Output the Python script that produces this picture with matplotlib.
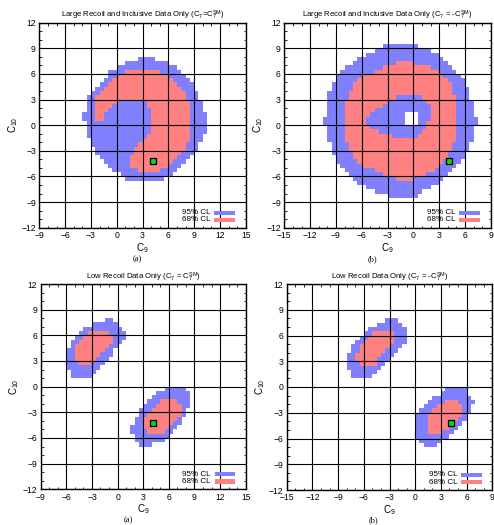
import matplotlib
matplotlib.use("Agg")
import matplotlib.pyplot as plt
from matplotlib.ticker import MultipleLocator

plt.rcParams['font.family'] = ['Liberation Sans', 'DejaVu Sans']
plt.rcParams['mathtext.fontset'] = 'custom'
plt.rcParams['mathtext.rm'] = 'Liberation Sans'
plt.rcParams['mathtext.it'] = 'Liberation Sans'

BLUE = '#8080ff'
RED = '#ff8080'
CELL = 0.5

# Standard-model point (C9, C10)
sm_c9 = 4.2
sm_c10 = -4.2

# ---------------- Panel 1: large recoil + inclusive, C7 = C7^SM ----------------
p1_rows = [7.5, 7, 6.5, 6, 5.5, 5, 4.5, 4, 3.5, 3, 2.5, 2, 1.5, 1, 0.5, 0,
           -0.5, -1, -1.5, -2, -2.5, -3, -3.5, -4, -4.5, -5, -5.5, -6, -6.5]
p1_cl95 = [[(2.5, 4.5)], [(1, 6)], [(0, 7)], [(-1, 7.5)], [(-1, 8)], [(-1.5, 8.5)],
           [(-2, 9)], [(-2.5, 9)], [(-3, 9.5)], [(-3.5, 9.5)], [(-3.5, 10)],
           [(-3.5, 10)], [(-3.5, 10)], [(-4, 10.5)], [(-4, 10.5)], [(-3.5, 10.5)],
           [(-3.5, 10.5)], [(-3.5, 10.5)], [(-3.5, 10)], [(-3, 10)], [(-3, 9.5)],
           [(-2.5, 9.5)], [(-2.5, 9)], [(-2, 8.5)], [(-1.5, 8)], [(-1, 7.5)],
           [(-0.5, 7)], [(0.5, 6.5)], [(1, 5.5)]]
p1_cl68 = [[], [], [], [(1, 5)], [(0, 6)], [(-0.5, 6.5)], [(-1, 7)], [(-1.5, 7.5)],
           [(-2, 8)], [(-2.5, 8)], [(-2.5, 0), (3.5, 8.5)], [(-2.5, -0.5), (3.5, 8.5)],
           [(-2.5, -1), (4, 8.5)], [(-2.5, -1.5), (4, 8.5)], [(-2.5, -1.5), (4, 8.5)],
           [(4, 8.5)], [(4, 8.5)], [(4, 8.5)], [(3.5, 8.5)], [(3, 8.5)],
           [(2.5, 8)], [(2, 8)], [(2, 7.5)], [(1.5, 7)], [(1.5, 6.5)],
           [(1.5, 6)], [(2.5, 5)], [], []]

# ---------------- Panel 2: large recoil + inclusive, C7 = -C7^SM ----------------
p2_rows = [9, 8.5, 8, 7.5, 7, 6.5, 6, 5.5, 5, 4.5, 4, 3.5, 3, 2.5, 2, 1.5, 1, 0.5, 0,
           -0.5, -1, -1.5, -2, -2.5, -3, -3.5, -4, -4.5, -5, -5.5, -6, -6.5, -7,
           -7.5, -8, -8.5]
p2_cl95 = [[(-3.5, 0.5)], [(-4.5, 2)], [(-5.5, 3)], [(-6.5, 3.5)], [(-7, 4)],
           [(-8, 4.5)], [(-8.5, 5)], [(-9, 5.5)], [(-9, 6)], [(-9.5, 6)],
           [(-9.5, 6.5)], [(-10, 6.5)], [(-10, 6.5)], [(-10, 7)], [(-10, 7)],
           [(-10, 7)], [(-10, -1), (0.5, 7)], [(-10.5, -1), (0.5, 7.5)],
           [(-10.5, -1), (0.5, 7.5)], [(-10, 7)], [(-10, 7)], [(-10, 7)], [(-10, 7)],
           [(-9.5, 6.5)], [(-9.5, 6.5)], [(-9.5, 6)], [(-9, 6)], [(-9, 5.5)],
           [(-8.5, 5)], [(-8, 4.5)], [(-7.5, 4)], [(-7, 3.5)], [(-6.5, 3)],
           [(-5.5, 2)], [(-4.5, 1)], [(-3, 0.5)]]
p2_cl68 = [[], [], [], [], [(-2, 0)], [(-3.5, 2)], [(-4.5, 3)], [(-6, 3.5)],
           [(-6.5, 4)], [(-7, 4.5)], [(-7, 4.5)], [(-7.5, 4.5)],
           [(-7.5, -2), (1, 5)], [(-8, -3), (1.5, 5)], [(-8, -3.5), (2, 5)],
           [(-8, -4.5), (2, 5)], [(-8, -5), (2, 5)], [(-8, -5.5), (2, 5)],
           [(-8, -5.5), (1.5, 5)], [(-8, -5), (1.5, 5)], [(-8, -4), (1, 5)],
           [(-8, -2.5), (0.5, 5)], [(-8, 5)], [(-7.5, 4.5)], [(-7.5, 4.5)],
           [(-7, 4)], [(-7, 4)], [(-6.5, 3.5)], [(-6, 3)], [(-4.5, 2.5)],
           [(-3.5, 1.5)], [(-2, 0)], [], [], [], []]

# ---------------- Panel 3: low recoil, C7 = C7^SM ----------------
p3_rows = [7.5, 7, 6.5, 6, 5.5, 5, 4.5, 4, 3.5, 3, 2.5, 2, 1.5, 1,
           -0.5, -1, -1.5, -2, -2.5, -3, -3.5, -4, -4.5, -5, -5.5, -6, -6.5, -7]
p3_cl95 = [[(-1.5, -0.5)], [(-3, 0)], [(-4, 0.5)], [(-4.5, 1)], [(-5, 1)],
           [(-5.5, 0.5)], [(-5.5, 0)], [(-6, -0.5)], [(-6, -0.5)], [(-6, -1)],
           [(-6, -1.5)], [(-6, -2)], [(-5.5, -2.5)], [(-5.5, -3)],
           [(5.5, 8)], [(4.5, 8.5)], [(4, 8.5)], [(3.5, 8.5)], [(3, 8.5)],
           [(2.5, 8)], [(2.5, 8)], [(2, 7.5)], [(2, 7.5)], [(1.5, 7)], [(1.5, 6.5)],
           [(2, 6)], [(2, 5.5)], [(2.5, 4)]]
p3_cl68 = [[], [], [], [(-3.5, -1)], [(-4, -0.5)], [(-4.5, -0.5)], [(-5, -1)],
           [(-5, -1.5)], [(-5, -2)], [(-5, -2.5)], [(-4.5, -3)], [], [], [],
           [], [], [], [(5, 7)], [(4.5, 7.5)], [(4, 7.5)], [(3.5, 7.5)], [(3, 7)],
           [(3, 6.5)], [(3, 6)], [(3.5, 5.5)], [], [], []]

# ---------------- Panel 4: low recoil, C7 = -C7^SM ----------------
p4_rows = [7.5, 7, 6.5, 6, 5.5, 5, 4.5, 4, 3.5, 3, 2.5, 2, 1.5, 1,
           -0.5, -1, -1.5, -2, -2.5, -3, -3.5, -4, -4.5, -5, -5.5, -6, -6.5, -7]
p4_cl95 = [[(-3.5, -2)], [(-4.5, -1.5)], [(-5.5, -1)], [(-6, -1)], [(-6.5, -1)],
           [(-7, -1)], [(-7.5, -1.5)], [(-7.5, -2)], [(-8, -2.5)], [(-8, -3)],
           [(-8, -3.5)], [(-8, -4)], [(-7.5, -4.5)], [(-7.5, -5)],
           [(3.5, 6)], [(3, 6)], [(2, 6.5)], [(1.5, 7)], [(1, 6.5)], [(0.5, 6.5)],
           [(0, 6)], [(0, 6)], [(0, 5.5)], [(0, 5)], [(0, 4.5)], [(0, 4)],
           [(0.5, 3)], [(1, 2.5)]]
p4_cl68 = [[], [], [], [(-5, -2.5)], [(-5.5, -2.5)], [(-6, -2.5)], [(-6.5, -3)],
           [(-6.5, -3.5)], [(-7, -4)], [(-7, -4.5)], [(-6.5, -4.5)], [], [], [],
           [], [], [], [(3.5, 5)], [(2.5, 5.5)], [(2, 5.5)], [(1.5, 5.5)],
           [(1.5, 5)], [(1.5, 4.5)], [(1.5, 4)], [(1.5, 3)], [], [], []]

titles = [r'Large Recoil and Inclusive Data Only (C$_7$=C$_7^{\rm SM}$)',
          r'Large Recoil and Inclusive Data Only (C$_7$ = -C$_7^{\rm SM}$)',
          r'Low Recoil Data Only (C$_7$ = C$_7^{\rm SM}$)',
          r'Low Recoil Data Only (C$_7$ = -C$_7^{\rm SM}$)']
captions = ['(a)', '(b)', '(a)', '(b)']
xlims = [(-9, 15), (-15, 9), (-9, 15), (-15, 9)]
ylim = (-12, 12)
legend_labels = ['95% CL', '68% CL']

W, H = 494.0, 525.0
rects_px = [(39.3, 22.7, 206.4, 205.0), (284.3, 22.7, 206.4, 205.0),
            (40.7, 284.0, 205.0, 205.3), (286.7, 284.0, 205.6, 206.0)]
caption_px = [(137.7, 259.5), (372.0, 259.5), (128.5, 520.0), (373.5, 520.0)]

fig = plt.figure(figsize=(W / 100, H / 100), dpi=100)

panels = [(p1_rows, p1_cl95, p1_cl68), (p2_rows, p2_cl95, p2_cl68),
          (p3_rows, p3_cl95, p3_cl68), (p4_rows, p4_cl95, p4_cl68)]

for i, (rows, cl95, cl68) in enumerate(panels):
    x0, y0, w, h = rects_px[i]
    ax = fig.add_axes([x0 / W, 1 - (y0 + h) / H, w / W, h / H])
    for y, ivs in zip(rows, cl95):
        if ivs:
            ax.broken_barh([(a, b - a) for a, b in ivs], (y, CELL),
                           facecolors=BLUE, edgecolor='none', linewidth=0,
                           antialiased=False, zorder=1)
    for y, ivs in zip(rows, cl68):
        if ivs:
            ax.broken_barh([(a, b - a) for a, b in ivs], (y, CELL),
                           facecolors=RED, edgecolor='none', linewidth=0,
                           antialiased=False, zorder=1.1)
    ax.plot([sm_c9], [sm_c10], marker='s', markersize=4.3, markerfacecolor='#00e000',
            markeredgecolor='black', markeredgewidth=0.9, linestyle='none', zorder=5)

    ax.set_xlim(*xlims[i])
    ax.set_ylim(*ylim)
    ax.xaxis.set_major_locator(MultipleLocator(3))
    ax.xaxis.set_minor_locator(MultipleLocator(1))
    ax.yaxis.set_major_locator(MultipleLocator(3))
    ax.yaxis.set_minor_locator(MultipleLocator(1))
    ax.set_axisbelow(False)
    ax.grid(which='major', color='black', linewidth=0.8)
    ax.tick_params(which='both', direction='in', top=True, right=True,
                   labelsize=6.2, pad=2.5)
    ax.tick_params(which='major', length=3.5, width=0.7)
    ax.tick_params(which='minor', length=1.8, width=0.6)
    for s in ax.spines.values():
        s.set_linewidth(1.0)
    ax.set_title(titles[i], fontsize=5.6, pad=3.5)
    ax.set_xlabel(r'C$_9$', fontsize=7, labelpad=0.5)
    ax.set_ylabel(r'C$_{10}$', fontsize=7, labelpad=1)

    # legend
    ax.text(0.83, 0.073, legend_labels[0], transform=ax.transAxes, ha='right',
            va='center', fontsize=5.8, zorder=6)
    ax.text(0.83, 0.038, legend_labels[1], transform=ax.transAxes, ha='right',
            va='center', fontsize=5.8, zorder=6)
    ax.add_patch(plt.Rectangle((0.848, 0.063), 0.102, 0.02, transform=ax.transAxes,
                               facecolor=BLUE, edgecolor='none', zorder=6))
    ax.add_patch(plt.Rectangle((0.848, 0.028), 0.102, 0.02, transform=ax.transAxes,
                               facecolor=RED, edgecolor='none', zorder=6))

    cx, cy = caption_px[i]
    fig.text(cx / W, 1 - cy / H, captions[i], ha='center', va='center',
             fontsize=6, family='Liberation Serif')

fig.savefig('out.png', dpi=100)
